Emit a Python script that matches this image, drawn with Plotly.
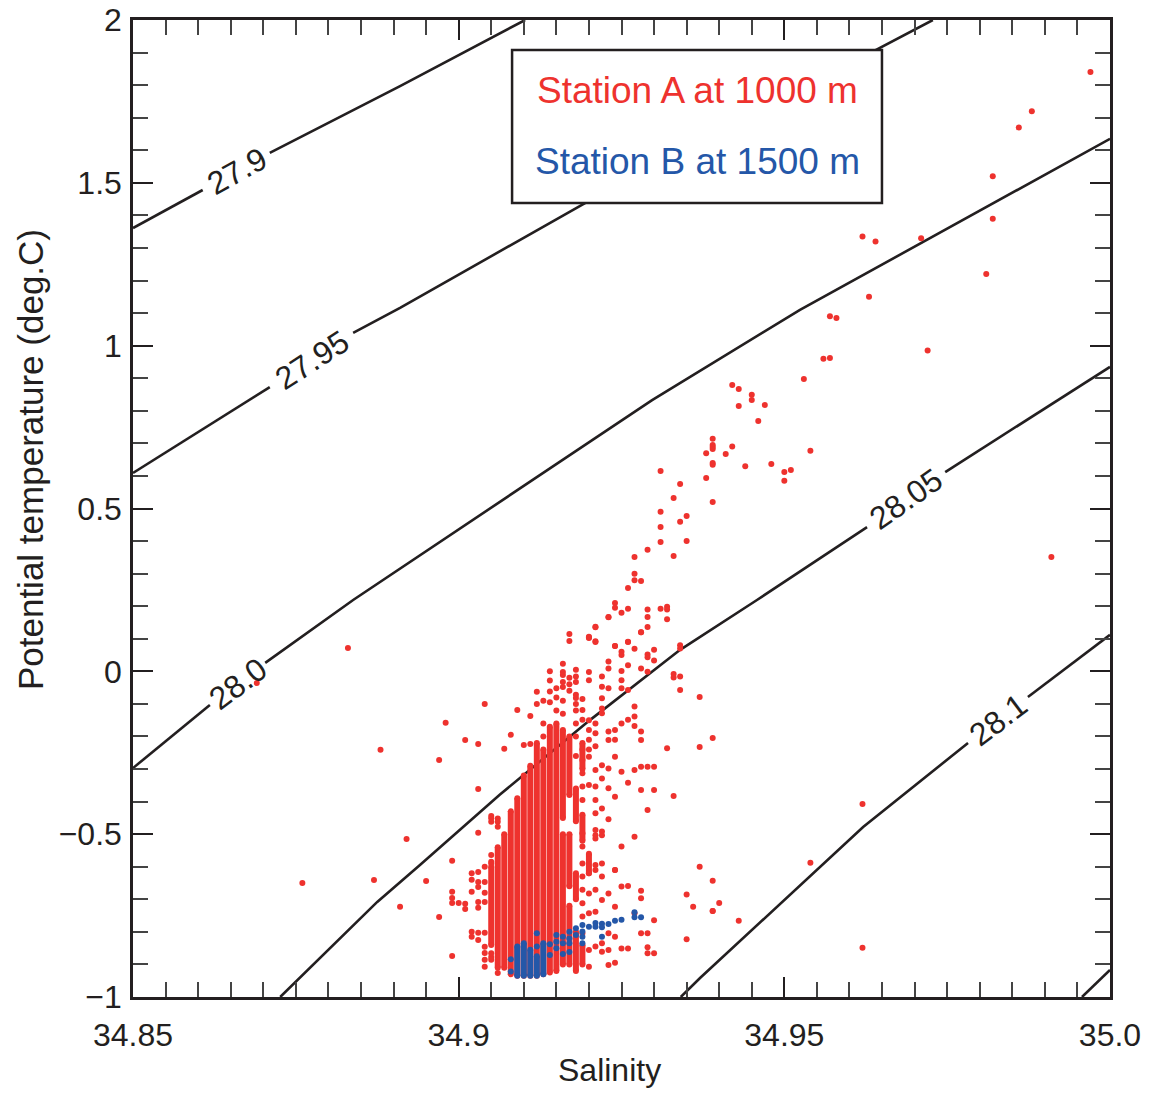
import plotly.graph_objects as go

# ---------------- data ----------------
x_tick_vals = [34.85, 34.9, 34.95, 35.0]
x_tick_text = ["34.85", "34.9", "34.95", "35.0"]
y_tick_vals = [-1, -0.5, 0, 0.5, 1, 1.5, 2]
y_tick_text = ["\u22121", "\u22120.5", "0", "0.5", "1", "1.5", "2"]

# density contours (salinity, temperature); None = gap for the label
c279_s = [34.85, 34.8607, None, 34.8710, 34.8910, 34.9102]
c279_t = [1.361, 1.478, None, 1.592, 1.797, 2.0]
c2795_s = [34.85, 34.8710, None, 34.8838, 34.8910, 34.9194, 34.9642, 34.9728]
c2795_t = [0.609, 0.873, None, 1.039, 1.116, 1.438, 1.908, 2.0]
c280_s = [34.85, 34.8618, None, 34.8703, 34.8838, 34.9297, 34.9524, 35.0]
c280_t = [-0.297, -0.103, None, 0.026, 0.219, 0.833, 1.110, 1.635]
c2805_s = [34.8726, 34.8875, 34.8941, 34.9063, 34.9202, 34.9340, 34.9458, 34.9627, None, 34.9747, 35.0]
c2805_t = [-1.0, -0.708, -0.594, -0.379, -0.149, 0.066, 0.219, 0.443, None, 0.612, 0.935]
c281_s = [34.9341, 34.9371, 34.9621, 34.9782, None, 34.9874, 35.0]
c281_t = [-1.0, -0.941, -0.478, -0.220, None, -0.079, 0.112]
c2815_s = [34.9957, 35.0]
c2815_t = [-1.0, -0.917]

contour_labels = ["27.9", "27.95", "28.0", "28.05", "28.1"]
label_s = [34.866, 34.8775, 34.8661, 34.9687, 34.9828]
label_t = [1.536, 0.956, -0.039, 0.529, -0.149]
label_angle = [-29, -33, -37, -35, -37]

# Station A (red): dense columns (salinity, top T, bottom T)
a_run_s = [34.905, 34.906, 34.907, 34.908, 34.909, 34.910, 34.911, 34.912, 34.913,
           34.914, 34.915, 34.916, 34.916, 34.917, 34.917, 34.917,
           34.918, 34.918, 34.918, 34.919, 34.919, 34.919, 34.920]
a_run_top = [-0.60, -0.54, -0.50, -0.43, -0.39, -0.32, -0.29, -0.22, -0.24,
             -0.17, -0.16, -0.18, -0.50, -0.20, -0.50, -0.72,
             -0.36, -0.62, -0.80, -0.22, -0.44, -0.84, -0.56]
a_run_bot = [-0.84, -0.91, -0.91, -0.93, -0.935, -0.935, -0.935, -0.935, -0.93,
             -0.925, -0.92, -0.45, -0.90, -0.38, -0.66, -0.90,
             -0.46, -0.70, -0.92, -0.30, -0.52, -0.90, -0.62]

# Station A (red): individual points
a_s = [34.997, 34.988, 34.986, 34.982, 34.982, 34.962, 34.964, 34.971, 34.981, 34.963,
       34.957, 34.958, 34.972, 34.956, 34.957, 34.953,
       34.942, 34.943, 34.945, 34.945, 34.943, 34.947, 34.946, 34.954, 34.939, 34.939,
       34.939, 34.939, 34.938, 34.942, 34.941, 34.939, 34.939, 34.944, 34.948, 34.950,
       34.951, 34.950, 34.938, 34.939, 34.931, 34.934, 34.933, 34.931, 34.935, 34.934,
       34.931, 34.931, 34.935, 34.929, 34.933, 34.927, 34.927, 34.927, 34.928, 34.926,
       34.924, 34.924, 34.925, 34.926, 34.923, 34.929, 34.929, 34.929, 34.931, 34.932,
       34.932, 34.932, 34.928, 34.921, 34.920, 34.921, 34.924, 34.926, 34.934, 34.934,
       34.937, 34.939, 34.937, 34.962, 34.937, 34.939, 34.954, 34.940, 34.939, 34.943,
       34.962, 34.991,
       34.883, 34.869, 34.888, 34.904, 34.898, 34.901, 34.903, 34.897, 34.903, 34.892,
       34.876, 34.887, 34.895, 34.891, 34.897, 34.899, 34.899, 34.903, 34.905, 34.905,
       34.906, 34.899, 34.899, 34.899, 34.900, 34.901, 34.901, 34.902, 34.903, 34.903,
       34.903, 34.903, 34.903, 34.904, 34.904, 34.904, 34.904, 34.905, 34.902, 34.902,
       34.903, 34.903, 34.904, 34.904, 34.904, 34.904, 34.904, 34.905, 34.906,
       34.905, 34.905, 34.905, 34.905, 34.905, 34.906, 34.906, 34.902, 34.902,
       34.909, 34.911, 34.912, 34.912, 34.908, 34.910, 34.911, 34.907, 34.913, 34.915,
       34.917, 34.917, 34.919, 34.920, 34.917, 34.920, 34.921, 34.921, 34.918,
       34.920, 34.920, 34.922, 34.922, 34.922, 34.922, 34.922, 34.923, 34.923, 34.923,
       34.923, 34.924, 34.925, 34.925, 34.925, 34.926, 34.926, 34.926, 34.927, 34.927,
       34.927, 34.928, 34.928, 34.929, 34.929, 34.929, 34.930, 34.930, 34.928, 34.933,
       34.933, 34.934, 34.934, 34.919, 34.919, 34.919, 34.920, 34.920, 34.920, 34.920,
       34.921, 34.921, 34.921, 34.923, 34.923, 34.924, 34.924, 34.925, 34.926, 34.927,
       34.928, 34.925, 34.925,
       34.919, 34.919, 34.919, 34.919, 34.920, 34.920, 34.921, 34.921, 34.921, 34.921,
       34.921, 34.921, 34.921, 34.922, 34.922, 34.922, 34.922, 34.922, 34.923, 34.923,
       34.923, 34.924, 34.924, 34.924, 34.925, 34.925, 34.926, 34.927, 34.927, 34.928,
       34.928, 34.929, 34.929, 34.930, 34.930, 34.932, 34.933,
       34.919, 34.919, 34.919, 34.919, 34.919, 34.919, 34.919, 34.919, 34.920, 34.920,
       34.920, 34.920, 34.920, 34.921, 34.921, 34.921, 34.921, 34.921, 34.922, 34.922,
       34.922, 34.922, 34.922, 34.923, 34.923, 34.923, 34.923, 34.924, 34.924, 34.924,
       34.924, 34.925, 34.925, 34.926, 34.926, 34.927, 34.928, 34.928, 34.928, 34.929,
       34.929, 34.929, 34.930, 34.930, 34.935, 34.935, 34.936, 34.939,
       34.914, 34.914, 34.914, 34.914, 34.916, 34.916, 34.916, 34.916, 34.916,
       34.917, 34.917, 34.918, 34.918, 34.918, 34.918, 34.918, 34.918,
       34.918, 34.918, 34.918, 34.916, 34.916, 34.915, 34.915, 34.913, 34.913]
a_t = [1.84, 1.72, 1.67, 1.52, 1.39, 1.335, 1.32, 1.33, 1.22, 1.15,
       1.09, 1.085, 0.985, 0.96, 0.962, 0.898,
       0.879, 0.867, 0.849, 0.833, 0.815, 0.818, 0.769, 0.677, 0.714, 0.695,
       0.689, 0.683, 0.67, 0.69, 0.667, 0.64, 0.634, 0.63, 0.637, 0.612,
       0.618, 0.585, 0.594, 0.52, 0.615, 0.575, 0.532, 0.49, 0.477, 0.459,
       0.443, 0.397, 0.40, 0.373, 0.354, 0.351, 0.30, 0.28, 0.277, 0.256,
       0.21, 0.195, 0.18, 0.192, 0.167, 0.19, 0.167, 0.136, 0.192, 0.198,
       0.19, 0.16, 0.12, 0.137, 0.106, 0.09, 0.078, 0.09, 0.08, 0.07,
       -0.079, -0.205, -0.232, -0.407, -0.60, -0.643, -0.588, -0.711, -0.736, -0.766,
       -0.849, 0.351,
       0.072, -0.036, -0.241, -0.10, -0.158, -0.211, -0.223, -0.272, -0.361, -0.515,
       -0.65, -0.641, -0.644, -0.723, -0.754, -0.874, -0.582, -0.496, -0.444, -0.462,
       -0.452, -0.677, -0.696, -0.711, -0.711, -0.714, -0.73, -0.677, -0.616, -0.647,
       -0.662, -0.708, -0.726, -0.60, -0.647, -0.68, -0.708, -0.585, -0.80, -0.815,
       -0.803, -0.825, -0.803, -0.846, -0.865, -0.886, -0.907, -0.877, -0.926,
       -0.451, -0.564, -0.59, -0.866, -0.886, -0.462, -0.477, -0.62, -0.64,
       -0.119, -0.137, -0.063, -0.10, -0.195, -0.226, -0.223, -0.238, -0.09, -0.052,
       0.115, 0.093, -0.085, 0.102, -0.02, -0.002, 0.135, 0.092, -0.016,
       0.104, -0.027, -0.016, -0.047, -0.083, -0.114, -0.129, 0.03, 0.009, -0.052,
       0.166, 0.078, 0.06, 0.05, -0.027, 0.091, 0.019, -0.057, 0.069, -0.108,
       -0.139, 0.12, 0.009, 0.052, 0.043, -0.001, 0.066, 0.033, -0.185, -0.008,
       -0.019, -0.016, -0.057, -0.119, -0.149, -0.272, -0.15, -0.18, -0.21, -0.24,
       -0.16, -0.19, -0.23, -0.185, -0.211, -0.18, -0.21, -0.16, -0.149, -0.168,
       -0.211, 0.001, -0.052,
       -0.313, -0.354, -0.395, -0.24, -0.262, -0.349, -0.303, -0.354, -0.395, -0.436,
       -0.487, -0.503, -0.513, -0.288, -0.329, -0.421, -0.492, -0.503, -0.298, -0.359,
       -0.454, -0.262, -0.385, -0.61, -0.308, -0.538, -0.342, -0.303, -0.508, -0.293,
       -0.364, -0.293, -0.426, -0.364, -0.293, -0.236, -0.383,
       -0.497, -0.538, -0.59, -0.63, -0.671, -0.712, -0.753, -0.804, -0.62, -0.682,
       -0.743, -0.856, -0.907, -0.595, -0.61, -0.671, -0.738, -0.845, -0.59, -0.63,
       -0.702, -0.835, -0.861, -0.682, -0.804, -0.856, -0.902, -0.723, -0.815, -0.895,
       -0.61, -0.661, -0.851, -0.659, -0.851, -0.743, -0.674, -0.697, -0.804, -0.804,
       -0.847, -0.866, -0.764, -0.866, -0.685, -0.823, -0.723, -0.736,
       0.0, -0.028, -0.062, -0.095, 0.023, -0.002, -0.011, -0.033, -0.048,
       -0.04, -0.06, 0.005, -0.033, -0.072, -0.082, -0.10, -0.12,
       -0.16, -0.20, -0.26, -0.09, -0.13, -0.08, -0.12, -0.16, -0.20]

# Station B (blue): dense columns and individual points
b_run_s = [34.909, 34.910, 34.911, 34.912, 34.913]
b_run_top = [-0.845, -0.835, -0.855, -0.875, -0.835]
b_run_bot = [-0.935, -0.935, -0.935, -0.935, -0.93]
b_s = [34.908, 34.908, 34.912, 34.912, 34.914, 34.914, 34.915, 34.915, 34.915, 34.916,
       34.916, 34.916, 34.917, 34.917, 34.917, 34.917, 34.918, 34.918, 34.919, 34.919,
       34.919, 34.919, 34.920, 34.921, 34.921, 34.922, 34.922, 34.922, 34.923, 34.924,
       34.925, 34.927, 34.927, 34.928]
b_t = [-0.884, -0.922, -0.804, -0.845, -0.838, -0.871, -0.81, -0.83, -0.85, -0.815,
       -0.835, -0.868, -0.80, -0.82, -0.835, -0.862, -0.789, -0.81, -0.779, -0.799,
       -0.815, -0.835, -0.784, -0.773, -0.784, -0.775, -0.786, -0.815, -0.776, -0.766,
       -0.763, -0.74, -0.755, -0.755]

legend_names = ["Station A at 1000 m", "Station B at 1500 m"]

# ---------------- styling ----------------
RED = "rgb(238,50,46)"
BLUE = "rgb(36,87,168)"
INK = "#231F20"
FONT = "Liberation Sans, Arial, Helvetica, sans-serif"
DOT = 6


def runs_to_xy(s_list, top_list, bot_list):
    xs, ys = [], []
    for s, t0, t1 in zip(s_list, top_list, bot_list):
        xs += [s, s, None]
        ys += [t0, t1, None]
    return xs, ys


fig = go.Figure()

for cs, ct in [(c279_s, c279_t), (c2795_s, c2795_t), (c280_s, c280_t),
               (c2805_s, c2805_t), (c281_s, c281_t), (c2815_s, c2815_t)]:
    fig.add_trace(go.Scatter(x=cs, y=ct, mode="lines", line=dict(color=INK, width=2.6),
                             connectgaps=False, hoverinfo="skip", showlegend=False))

ax, ay = runs_to_xy(a_run_s, a_run_top, a_run_bot)
fig.add_trace(go.Scatter(x=ax, y=ay, mode="lines", line=dict(color=RED, width=DOT),
                         showlegend=False, hoverinfo="skip"))
fig.add_trace(go.Scatter(x=a_run_s + a_run_s, y=a_run_top + a_run_bot, mode="markers",
                         marker=dict(color=RED, size=DOT, line=dict(width=0)),
                         showlegend=False, hoverinfo="skip"))
fig.add_trace(go.Scatter(x=a_s, y=a_t, mode="markers", name=legend_names[0],
                         marker=dict(color=RED, size=DOT, line=dict(width=0)),
                         showlegend=False))

bx, by = runs_to_xy(b_run_s, b_run_top, b_run_bot)
fig.add_trace(go.Scatter(x=bx, y=by, mode="lines", line=dict(color=BLUE, width=DOT),
                         showlegend=False, hoverinfo="skip"))
fig.add_trace(go.Scatter(x=b_run_s + b_run_s, y=b_run_top + b_run_bot, mode="markers",
                         marker=dict(color=BLUE, size=DOT, line=dict(width=0)),
                         showlegend=False, hoverinfo="skip"))
fig.add_trace(go.Scatter(x=b_s, y=b_t, mode="markers", name=legend_names[1],
                         marker=dict(color=BLUE, size=DOT, line=dict(width=0)),
                         showlegend=False))

annotations = []
for txt, s, t, ang in zip(contour_labels, label_s, label_t, label_angle):
    annotations.append(dict(x=s, y=t, xref="x", yref="y", text=txt, showarrow=False,
                            xanchor="center", yanchor="middle",
                            textangle=ang, font=dict(family=FONT, size=32, color=INK)))

# legend box texts
annotations.append(dict(x=0.5775, y=0.9277, xref="paper", yref="paper", text=legend_names[0],
                        xanchor="center", yanchor="middle",
                        showarrow=False, font=dict(family=FONT, size=37, color=RED)))
annotations.append(dict(x=0.5775, y=0.8551, xref="paper", yref="paper", text=legend_names[1],
                        xanchor="center", yanchor="middle",
                        showarrow=False, font=dict(family=FONT, size=37, color=BLUE)))
# axis titles
annotations.append(dict(x=0.4874, y=-0.0747, xref="paper", yref="paper", text="Salinity",
                        xanchor="center", yanchor="middle",
                        showarrow=False, font=dict(family=FONT, size=32, color=INK)))
annotations.append(dict(x=-0.1054, y=0.5496, xref="paper", yref="paper",
                        text="Potential temperature (deg.C)", textangle=-90,
                        xanchor="center", yanchor="middle",
                        showarrow=False, font=dict(family=FONT, size=35, color=INK)))

fig.update_layout(
    width=1166, height=1093,
    margin=dict(l=133, r=56, t=20, b=96, autoexpand=False),
    paper_bgcolor="white", plot_bgcolor="white",
    font=dict(family=FONT, size=32, color=INK),
    annotations=annotations,
    shapes=[dict(type="rect", xref="paper", yref="paper", x0=0.388, x1=0.7666,
                 y0=0.8127, y1=0.9693, line=dict(color=INK, width=2.5),
                 fillcolor="white", layer="above")],
)
fig.update_xaxes(range=[34.85, 35.0], tickvals=x_tick_vals, ticktext=x_tick_text,
                 ticks="inside", ticklen=20, tickwidth=2, tickcolor=INK,
                 minor=dict(dtick=0.005, tick0=34.85, ticks="inside", ticklen=15,
                            tickwidth=1.5, tickcolor="#444"),
                 showline=True, linewidth=2.5, linecolor=INK, mirror="allticks",
                 showgrid=False, zeroline=False, ticklabelstandoff=8, automargin=False,
                 ticklabeloverflow="allow",
                 tickfont=dict(family=FONT, size=32, color=INK))
fig.update_yaxes(range=[-1, 2], tickvals=y_tick_vals, ticktext=y_tick_text,
                 ticks="inside", ticklen=20, tickwidth=2, tickcolor=INK,
                 minor=dict(dtick=0.1, tick0=-1, ticks="inside", ticklen=15,
                            tickwidth=1.5, tickcolor="#444"),
                 showline=True, linewidth=2.5, linecolor=INK, mirror="allticks",
                 showgrid=False, zeroline=False, ticklabelstandoff=2, automargin=False,
                 ticklabeloverflow="allow",
                 tickfont=dict(family=FONT, size=32, color=INK))

# remove the page's default 8 px body margin so the figure fills the window exactly
fig.write_html("out.html", config={"displayModeBar": False},
               post_script="document.body.style.margin='0';")
